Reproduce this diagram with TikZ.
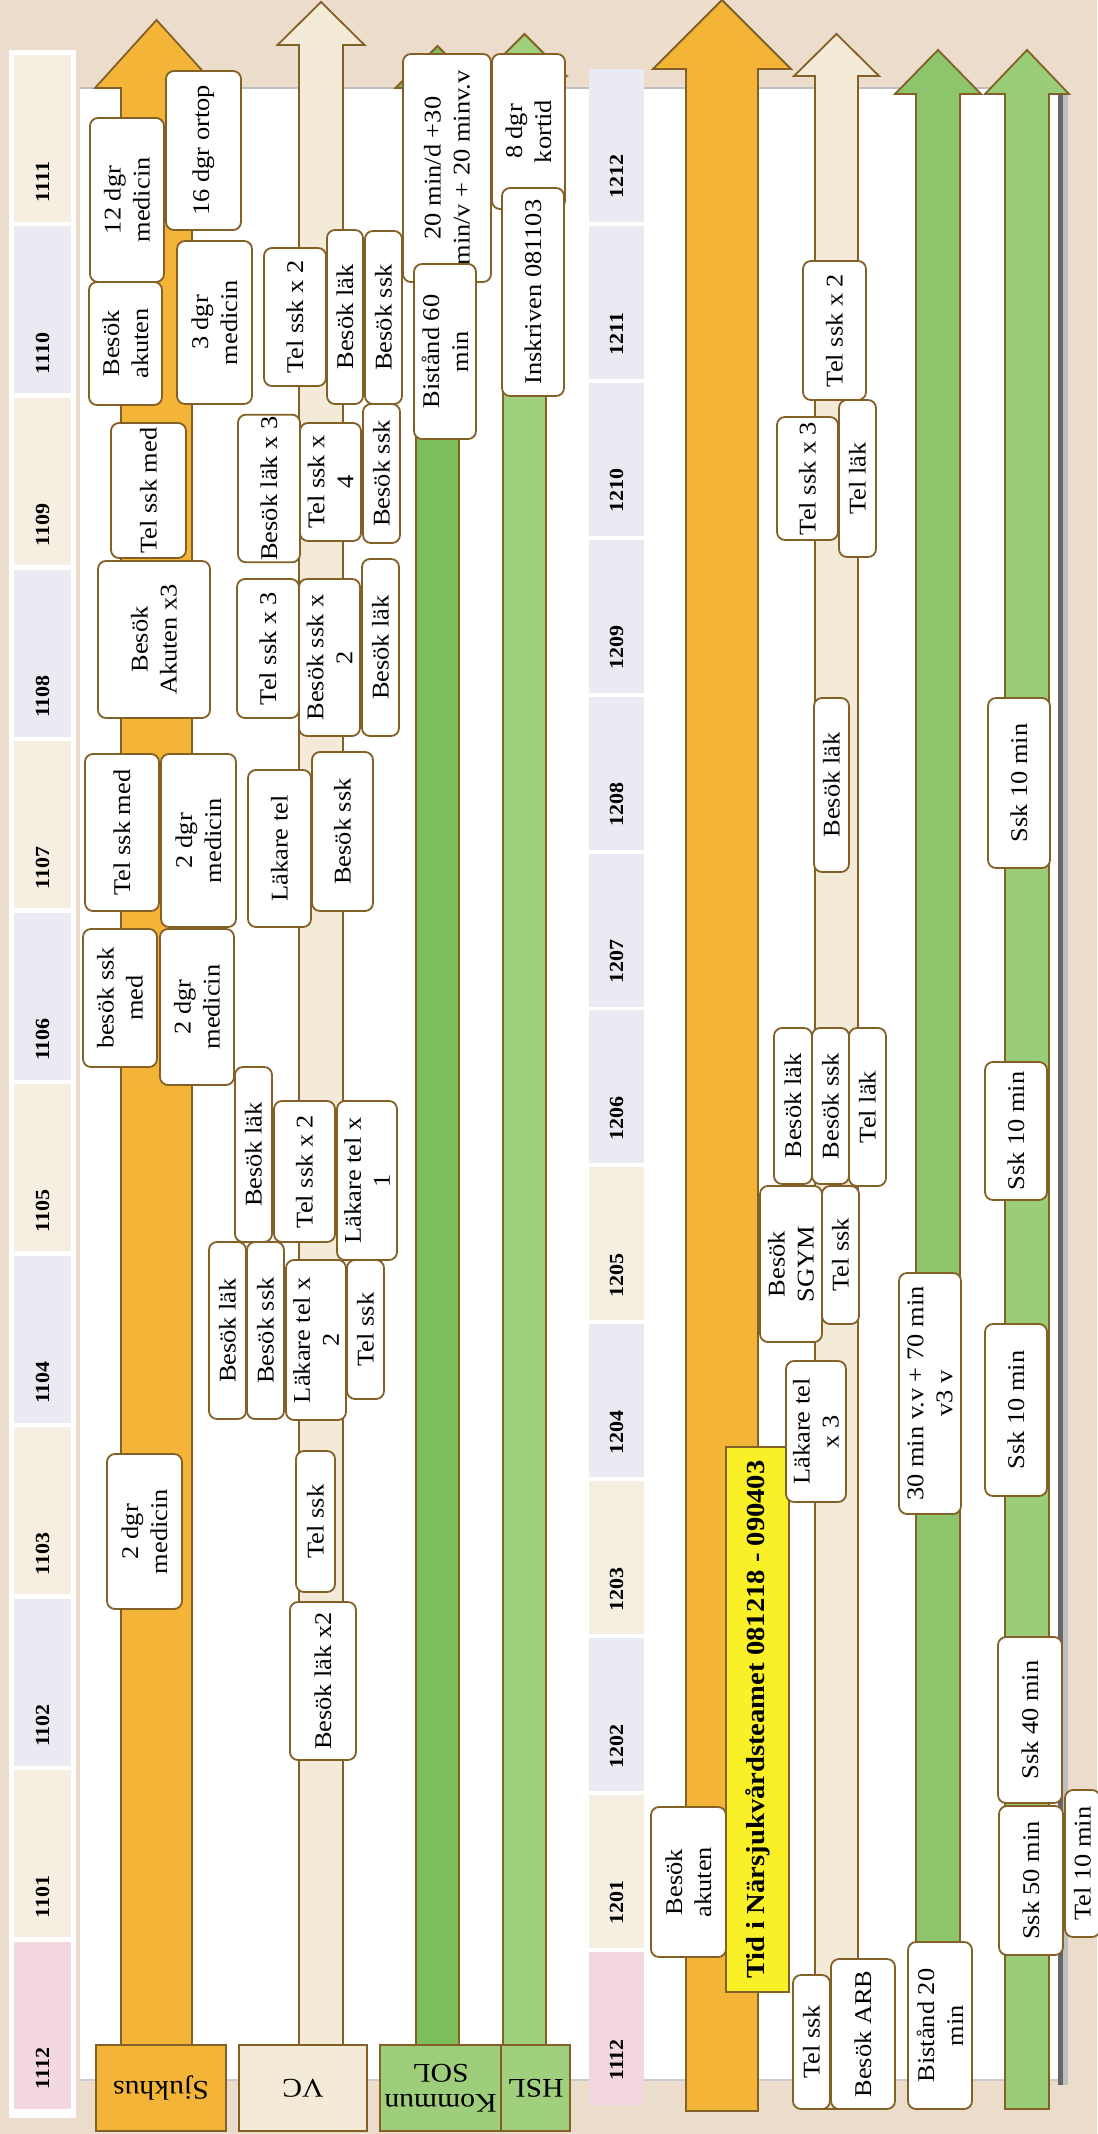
\documentclass[tikz,border=0pt]{standalone}
\usepackage{fontspec}
\setmainfont{Liberation Serif}[FakeStretch=1.1]
\definecolor{bg}{RGB}{235,220,203}
\definecolor{edge}{RGB}{130,96,38}
\definecolor{orng}{RGB}{243,180,56}
\definecolor{crm}{RGB}{243,234,216}
\definecolor{grnA}{RGB}{124,190,92}
\definecolor{grnB}{RGB}{160,208,125}
\definecolor{grnC}{RGB}{140,197,107}
\definecolor{grnD}{RGB}{154,205,120}
\definecolor{lblG}{RGB}{158,206,124}
\definecolor{mPink}{RGB}{242,216,222}
\definecolor{mBeige}{RGB}{246,238,225}
\definecolor{mLav}{RGB}{234,234,243}
\definecolor{yel}{RGB}{250,240,40}
\tikzset{
 box/.style={draw=edge, line width=0.9pt, fill=white, rounded corners=4pt, inner sep=0.8pt, align=center, font=\fontsize{12}{14.5}\selectfont},
 lbl/.style={draw=edge, line width=0.9pt, align=center, font=\fontsize{13.5}{15}\selectfont, rotate=180, inner sep=1pt},
 mon/.style={font=\bfseries\fontsize{10}{12}\selectfont, rotate=90},
 arr/.style={draw=edge, line width=0.9pt},
}
\newcommand{\bx}[6]{\node[box,rotate=90,minimum width={0.5*(#4-#3)},minimum height={0.5*(#2-#1)}] (#6) at ({(#1+#2)/2},{(#3+#4)/2}) {#5};}
\newcommand{\arw}[7]{\filldraw[arr,fill=#7] ({#1-#2},#6) -- ({#1-#2},#5) -- ({#1-#3},#5) -- (#1,#4) -- ({#1+#3},#5) -- ({#1+#2},#5) -- ({#1+#2},#6) -- cycle;}
\begin{document}
\begin{tikzpicture}[x=0.5pt,y=-0.5pt]
\useasboundingbox (0,0) rectangle (1097,2134);
\fill[bg] (0,0) rectangle (1097,2134);
% panel
\fill[white] (80,88) rectangle (1058,2080);
\draw[black!25, line width=1pt] (80,88) -- (1058,88);
\draw[black!20, line width=1pt] (80,2080) -- (1058,2080);
\fill[black!60] (1058,95) rectangle (1063,2085);
\fill[black!25] (1063,95) rectangle (1068,2085);
% left month strip
\fill[white] (9,50) rectangle (76,2118);
\foreach \lab/\col [count=\i from 0] in {1111/mBeige,1110/mLav,1109/mBeige,1108/mLav,1107/mBeige,1106/mLav,1105/mBeige,1104/mLav,1103/mBeige,1102/mLav,1101/mBeige,1112/mPink}{
 \pgfmathsetmacro{\ya}{55+171.5*\i}
 \pgfmathsetmacro{\yb}{\ya+167}
 \fill[\col] (14,\ya) rectangle (71,\yb);
 \node[mon] (mL\lab) at (42.5,{\ya+127}) {\lab};
}
% right month strip
\foreach \lab/\col [count=\i from 0] in {1212/mLav,1211/mLav,1210/mLav,1209/mLav,1208/mLav,1207/mLav,1206/mLav,1205/mBeige,1204/mLav,1203/mBeige,1202/mLav,1201/mBeige,1112/mPink}{
 \pgfmathsetmacro{\ya}{69+156.9*\i}
 \pgfmathsetmacro{\yb}{\ya+153}
 \fill[\col] (589,\ya) rectangle (644,\yb);
 \node[mon] (mR\lab) at (616.5,{\ya+108}) {\lab};
}
% arrows
\arw{156.5}{35.5}{61.5}{20}{88}{2045}{orng}
\arw{321}{22}{43.5}{2}{45}{2045}{crm}
\arw{437.5}{21.5}{42}{46}{88}{2045}{grnA}
\arw{524.5}{21.5}{42}{34}{76}{2045}{grnB}
\arw{722}{36}{69}{0}{69}{2111}{orng}
\arw{836.5}{21.5}{42.5}{34}{76}{2109}{crm}
\arw{938}{22}{43}{50}{94}{2109}{grnC}
\arw{1027}{22}{42}{50}{94}{2109}{grnD}
% bottom labels
\node[lbl,fill=orng,minimum width=65pt,minimum height=43pt] (sjuk) at (161,2088) {Sjukhus};
\node[lbl,fill=crm,minimum width=64pt,minimum height=43pt] (vc) at (303,2088) {VC};
\node[lbl,fill=lblG,minimum width=60.5pt,minimum height=43pt] (sol) at (440.5,2088) {Kommun\\SOL};
\node[lbl,fill=grnB,minimum width=34.5pt,minimum height=43pt] (hsl) at (535.5,2088) {HSL};
% left boxes
\bx{89}{162}{282}{405}{Besök\\akuten}{L2}
\bx{90}{164}{118}{282}{12 dgr\\medicin}{L1}
\bx{166}{241}{71}{230}{16 dgr ortop}{L3}
\bx{177}{252}{241}{404}{3 dgr\\medicin}{L4}
\bx{111}{186}{423}{558}{Tel ssk med}{L5}
\bx{98}{210}{561}{718}{Besök\\Akuten x3}{L6}
\bx{85}{159}{754}{911}{Tel ssk med}{L7}
\bx{161}{236}{754}{927}{2 dgr\\medicin}{L8}
\bx{83}{157}{929}{1067}{besök ssk\\med}{L9}
\bx{160}{234}{929}{1085}{2 dgr\\medicin}{L10}
\bx{107}{182}{1454}{1609}{2 dgr\\medicin}{L11}
\bx{264}{326}{248}{386}{Tel ssk x 2}{L12}
\bx{327}{363}{230}{404}{Besök läk}{L13}
\bx{365}{402}{231}{404}{Besök ssk}{L14}
\bx{238}{300}{418}{559}{Besök läk x 3}{L15}
\bx{300}{361}{423}{541}{Tel ssk x\\4}{L16}
\bx{363}{400}{404}{543}{Besök ssk}{L17}
\bx{237}{299}{579}{718}{Tel ssk x 3}{L18}
\bx{299}{360}{579}{736}{Besök ssk x\\2}{L19}
\bx{362}{399}{559}{736}{Besök läk}{L20}
\bx{248}{311}{770}{927}{Läkare tel}{L21}
\bx{312}{373}{752}{911}{Besök ssk}{L22}
\bx{235}{272}{1067}{1242}{Besök läk}{L23}
\bx{274}{335}{1101}{1242}{Tel ssk x 2}{L24}
\bx{337}{397}{1101}{1260}{Läkare tel x\\1}{L25}
\bx{209}{246}{1242}{1419}{Besök läk}{L26}
\bx{247}{284}{1242}{1419}{Besök ssk}{L27}
\bx{286}{346}{1260}{1420}{Läkare tel x\\2}{L28}
\bx{347}{384}{1260}{1399}{Tel ssk}{L29}
\bx{296}{335}{1451}{1592}{Tel ssk}{L30}
\bx{290}{356}{1602}{1760}{Besök läk x2}{L31}
\bx{403}{491}{54}{282}{20 min/d +30\\min/v + 20 minv.v}{L32}
\bx{492}{565}{54}{209}{8 dgr\\kortid}{L33}
\bx{414}{476}{264}{439}{Bistånd 60\\min}{L34}
\bx{502}{564}{188}{396}{Inskriven 081103}{L35}
% yellow
\node[draw=edge,line width=0.9pt,fill=yel,rotate=90,minimum width=272.5pt,minimum height=31.5pt,inner sep=1pt,font=\bfseries\fontsize{13}{15}\selectfont] (tid) at (757.5,1719.5) {Tid i Närsjukvårdsteamet 081218 - 090403};
% right boxes
\bx{803}{866}{261}{400}{Tel ssk x 2}{R1}
\bx{777}{838}{417}{540}{Tel ssk x 3}{R2}
\bx{839}{876}{400}{557}{Tel läk}{R3}
\bx{814}{849}{698}{872}{Besök läk}{R4}
\bx{988}{1050}{698}{868}{Ssk 10 min}{R5}
\bx{774}{812}{1028}{1184}{Besök läk}{R6}
\bx{812}{849}{1028}{1184}{Besök ssk}{R7}
\bx{849}{886}{1028}{1186}{Tel läk}{R8}
\bx{985}{1047}{1062}{1200}{Ssk 10 min}{R9}
\bx{760}{822}{1186}{1342}{Besök\\SGYM}{R10}
\bx{822}{859}{1186}{1324}{Tel ssk}{R11}
\bx{899}{961}{1273}{1514}{30 min v.v + 70 min\\v3 v}{R12}
\bx{985}{1047}{1324}{1496}{Ssk 10 min}{R13}
\bx{786}{846}{1361}{1502}{Läkare tel\\x 3}{R14}
\bx{998}{1062}{1637}{1803}{Ssk 40 min}{R15}
\bx{651}{726}{1807}{1957}{Besök\\akuten}{R16}
\bx{999}{1063}{1806}{1955}{Ssk 50 min}{R17}
\bx{1065}{1100}{1790}{1937}{Tel 10 min}{R18}
\bx{793}{830}{1975}{2109}{Tel ssk}{R19}
\bx{831}{895}{1959}{2109}{Besök ARB}{R20}
\bx{908}{972}{1942}{2109}{Bistånd 20\\min}{R21}
\end{tikzpicture}
\end{document}
